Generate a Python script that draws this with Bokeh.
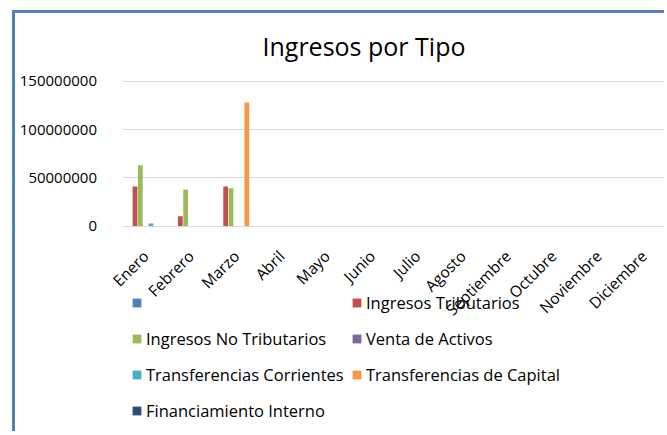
import math
from bokeh.plotting import figure
from bokeh.models import (ColumnDataSource, FixedTicker, NumeralTickFormatter,
                          Range1d, Legend, LegendItem, Label, BoxAnnotation)
from bokeh.transform import dodge
from bokeh.embed import file_html
from bokeh.resources import INLINE

# ---------------- data ----------------
months = ["Enero", "Febrero", "Marzo", "Abril", "Mayo", "Junio", "Julio",
          "Agosto", "Septiembre", "Octubre", "Noviembre", "Diciembre"]

series_names = [" ", "Ingresos Tributarios", "Ingresos No Tributarios",
                "Venta de Activos", "Transferencias Corrientes",
                "Transferencias de Capital", "Financiamiento Interno"]

serie_sin_nombre = [0, 0, 0, 0, 0, 0, 0, 0, 0, 0, 0, 0]
ingresos_tributarios = [41000000, 10300000, 41000000, 0, 0, 0, 0, 0, 0, 0, 0, 0]
ingresos_no_tributarios = [63000000, 38000000, 39300000, 0, 0, 0, 0, 0, 0, 0, 0, 0]
venta_de_activos = [0, 0, 0, 0, 0, 0, 0, 0, 0, 0, 0, 0]
transferencias_corrientes = [2800000, 0, 0, 0, 0, 0, 0, 0, 0, 0, 0, 0]
transferencias_de_capital = [0, 0, 128000000, 0, 0, 0, 0, 0, 0, 0, 0, 0]
financiamiento_interno = [0, 0, 0, 0, 0, 0, 0, 0, 0, 0, 0, 0]

y_ticks = [0, 50000000, 100000000, 150000000]

colors = ["#4F81BD", "#C0504D", "#9BBB59", "#8064A2", "#4BACC6", "#F79646", "#2C4D75"]

title_text = "Ingresos por Tipo"

# ---------------- figure ----------------
cols = ["s0", "s1", "s2", "s3", "s4", "s5", "s6"]
data = {"x": list(range(len(months)))}
for c, vals in zip(cols, [serie_sin_nombre, ingresos_tributarios, ingresos_no_tributarios,
                          venta_de_activos, transferencias_corrientes,
                          transferencias_de_capital, financiamiento_interno]):
    data[c] = vals
source = ColumnDataSource(data)

FONT = "Open Sans"

W, H = 652, 421
p = figure(width=W, height=H, output_backend="svg", toolbar_location=None,
           x_range=Range1d(-2.873, 11.52), y_range=Range1d(-215480000, 220030000),
           min_border_left=0, min_border_right=0, min_border_top=0,
           min_border_bottom=0)
p.styles = {"margin-left": "12px", "margin-top": "10px",
            "border-left": "3px solid #4F81BD", "border-top": "3px solid #4F81BD"}
p.outline_line_color = None
p.background_fill_color = "white"
p.border_fill_color = "white"

step = 0.117
bar_w = 0.105
renderers = []
for i, (c, col) in enumerate(zip(cols, colors)):
    r = p.vbar(x=dodge("x", (i - 3) * step, range=p.x_range), top=c, width=bar_w,
               bottom=0, source=source, fill_color=col, line_color=None)
    renderers.append(r)

# hide the gridlines to the left of the plot area
p.add_layout(BoxAnnotation(right=-0.5, fill_color="white", fill_alpha=1,
                           line_color=None, level="glyph"))

# axes
p.xaxis.fixed_location = 0
p.xaxis.bounds = (-0.5, 11.52)
p.xaxis.ticker = FixedTicker(ticks=list(range(len(months))))
p.xaxis.major_label_overrides = {i: m for i, m in enumerate(months)}
p.xaxis.major_label_orientation = math.pi / 4
p.xaxis.major_label_text_font = FONT
p.xaxis.major_label_text_font_size = "15.5px"
p.xaxis.major_label_text_color = "#000000"
p.xaxis.major_label_standoff = 21
p.xaxis.axis_line_color = "#D9D9D9"
p.xaxis.major_tick_line_color = None
p.xaxis.minor_tick_line_color = None

p.yaxis.fixed_location = -0.5
p.yaxis.ticker = FixedTicker(ticks=y_ticks)
p.yaxis.formatter = NumeralTickFormatter(format="0")
p.yaxis.major_label_text_font = FONT
p.yaxis.major_label_text_font_size = "15px"
p.yaxis.major_label_text_color = "#000000"
p.yaxis.major_label_standoff = 20
p.yaxis.axis_line_color = None
p.yaxis.major_tick_line_color = None
p.yaxis.minor_tick_line_color = None

p.xgrid.grid_line_color = None
p.ygrid.grid_line_color = "#D9D9D9"
p.ygrid.grid_line_width = 1

# title (screen units from the frame's bottom-left)
p.add_layout(Label(x=247, y=H - 32, x_units="screen", y_units="screen",
                   text=title_text, text_font=FONT, text_font_size="25px",
                   text_color="#000000", text_baseline="alphabetic"))

def make_legend(idx, loc):
    lg = Legend(items=[LegendItem(label=series_names[i], renderers=[renderers[i]]) for i in idx],
                location=loc, orientation="vertical", padding=0, margin=0,
                spacing=13, glyph_width=11, glyph_height=11, label_standoff=4,
                label_height=23, label_text_font=FONT, label_text_font_size="16.5px",
                label_text_color="#000000", border_line_color=None,
                background_fill_alpha=0)
    return lg

p.add_layout(make_legend([0, 2, 4, 6], (116, 12)), "center")
p.add_layout(make_legend([1, 3, 5], (336, 48)), "center")

open("out.html", "w").write(file_html(p, INLINE))
